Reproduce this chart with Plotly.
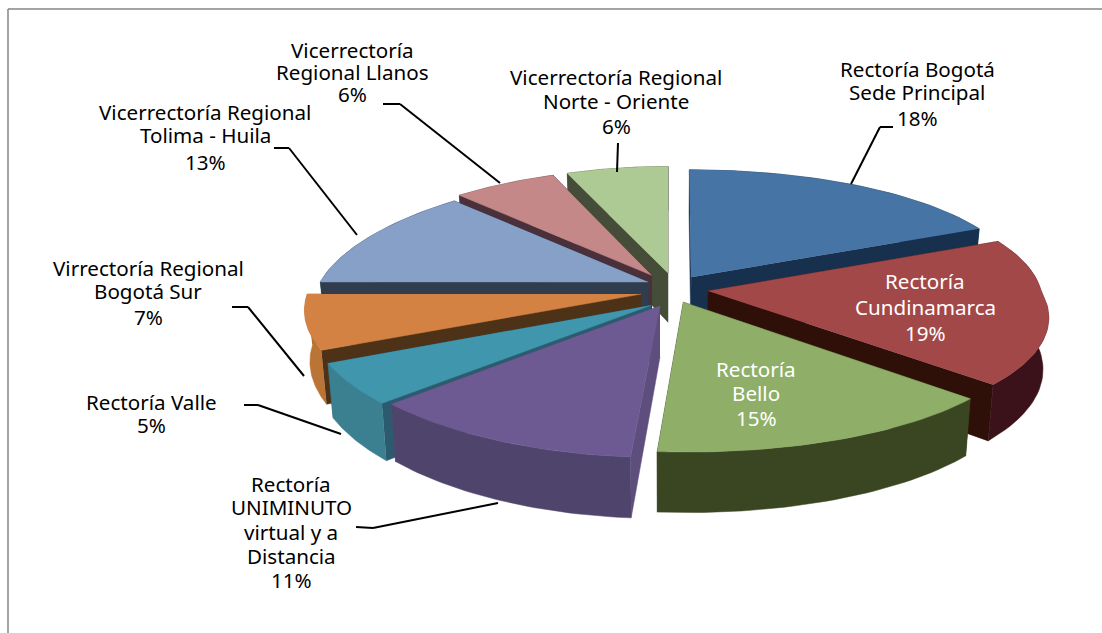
import numpy as np
import plotly.graph_objects as go

# ---- data ----
names = [["Rectoría Bogotá", "Sede Principal"], ["Rectoría", "Cundinamarca"], ["Rectoría", "Bello"],
         ["Rectoría", "UNIMINUTO", "virtual y a", "Distancia"], ["Rectoría Valle"],
         ["Virrectoría Regional", "Bogotá Sur"], ["Vicerrectoría Regional", "Tolima - Huila"],
         ["Vicerrectoría", "Regional Llanos"], ["Vicerrectoría Regional", "Norte - Oriente"]]
values = [18, 19, 15, 11, 5, 7, 13, 6, 6]

# ---- style ----
top_col = ["#4674A5", "#A34848", "#8FAF68", "#6D5A92", "#3F96AD", "#D48244", "#86A0C8", "#C58888", "#AECA94"]
outer_col = ["#16304E", "#3C121A", "#3A4522", "#4F446B", "#3A8090", "#B97436", "#303D4F", "#4A303A", "#454D38"]
radial_col = ["#16304E", "#2E1008", "#3A4522", "#5E4E7E", "#2C5B70", "#4E3218", "#303D4F", "#4A303A", "#454D38"]
offset_x = [0.07, 0.12, 0.045, -0.024, -0.05, -0.08, -0.06, -0.05, 0.0]
offset_y = [0.115, 0.0, -0.09, -0.12, -0.115, -0.025, 0.075, 0.13, 0.15]
draw_order = [8, 7, 6, 0, 5, 4, 1, 3, 2]
label_colors = ["black", "white", "white", "black", "black", "black", "black", "black", "black"]
label_x = [917, 925, 756, 291, 151, 148, 205, 352, 616]
label_y = [[69, 92, 118], [281, 307, 333], [369, 393, 418], [484, 507, 532, 556, 580], [402, 425],
           [268, 291, 317], [112, 135, 162], [50, 72, 94], [77, 101, 126]]
leaders = [[(893, 127), (880, 127), (851, 184)], [(618, 143), (617, 172)], [(383, 104), (400, 104), (500, 183)],
           [(274, 148), (289, 148), (357, 235)], [(232, 307), (248, 307), (304, 376)],
           [(244, 405), (258, 405), (341, 434)], [(356, 527), (373, 528), (498, 503)]]
CX, CY, RX, RY, H = 668, 291, 333, 122, 50
PY_BACK, PY_FRONT = 0.11, 0.16
PX_BACK_R, PX_BACK_L, PX_FRONT_R, PX_FRONT_L = 0.08, 0.20, 0.19, 0.12
FONT = "Noto Sans"
FS = 20.6


def project(x, y, depth=0.0):
    x, y = np.asarray(x, float), np.asarray(y, float)
    px = np.where(y > 0, np.where(x > 0, PX_BACK_R, PX_BACK_L), np.where(x > 0, PX_FRONT_R, PX_FRONT_L))
    sx = 1 / (1 + px * y)
    sy = 1 / (1 + np.where(y > 0, PY_BACK, PY_FRONT) * y)
    return CX + x * RX * sx * (1 - 0.015 * depth), CY - y * RY * sy + H * sy * depth


def warp(t):
    # the view foreshortens angles close to the front of the pie
    d = np.degrees(t)
    return np.radians(d - 3.0 * np.exp(-((d - 187.2) / 25) ** 2))


edges = np.cumsum([0] + values) / sum(values) * 2 * np.pi
fig = go.Figure()


def poly(px, py, color):
    fig.add_trace(go.Scatter(x=px, y=py, mode="lines", fill="toself", fillcolor=color,
                             line=dict(color=color, width=0.5), hoverinfo="skip", showlegend=False))


for i in draw_order:
    a, b = edges[i], edges[i + 1]
    ox, oy = offset_x[i], offset_y[i]
    th = warp(np.linspace(a, b, 40))
    ax, ay = np.sin(th) + ox, np.cos(th) + oy
    # radial walls
    for t in (th[0], th[-1]):
        ex, ey = np.sin(t) + ox, np.cos(t) + oy
        p = [project(ox, oy), project(ex, ey), project(ex, ey, 1), project(ox, oy, 1)]
        poly([float(q[0]) for q in p], [float(q[1]) for q in p], radial_col[i])
    # outer wall
    tx, ty = project(ax, ay)
    bx, by = project(ax, ay, 1)
    poly(np.r_[tx, bx[::-1]], np.r_[ty, by[::-1]], outer_col[i])
    # top face
    cx0, cy0 = project(ox, oy)
    poly(np.r_[cx0, tx], np.r_[cy0, ty], top_col[i])

annotations = []
for name, v, x, ys, c in zip(names, values, label_x, label_y, label_colors):
    for line, y in zip(name + [f"{v}%"], ys):
        annotations.append(dict(x=x, y=y, xref="x", yref="y", text=line, showarrow=False, xanchor="center",
                                yanchor="middle", font=dict(family=FONT, size=FS, color=c)))

shapes = [dict(type="line", xref="x", yref="y", x0=8, x1=8, y0=9, y1=633, line=dict(color="#868686", width=1.5)),
          dict(type="line", xref="x", yref="y", x0=8, x1=1102, y0=9, y1=9, line=dict(color="#868686", width=1.5))]
for pts in leaders:
    for (x0, y0), (x1, y1) in zip(pts[:-1], pts[1:]):
        shapes.append(dict(type="line", xref="x", yref="y", x0=x0, y0=y0, x1=x1, y1=y1,
                           line=dict(color="black", width=2)))

fig.update_layout(width=1102, height=633, margin=dict(l=0, r=0, t=0, b=0), paper_bgcolor="white",
                  plot_bgcolor="white", showlegend=False, annotations=annotations, shapes=shapes,
                  xaxis=dict(range=[0, 1102], visible=False, fixedrange=True),
                  yaxis=dict(range=[633, 0], visible=False, fixedrange=True))
fig.write_html("out.html", post_script="document.body.style.margin='0';", config={"displayModeBar": False})
